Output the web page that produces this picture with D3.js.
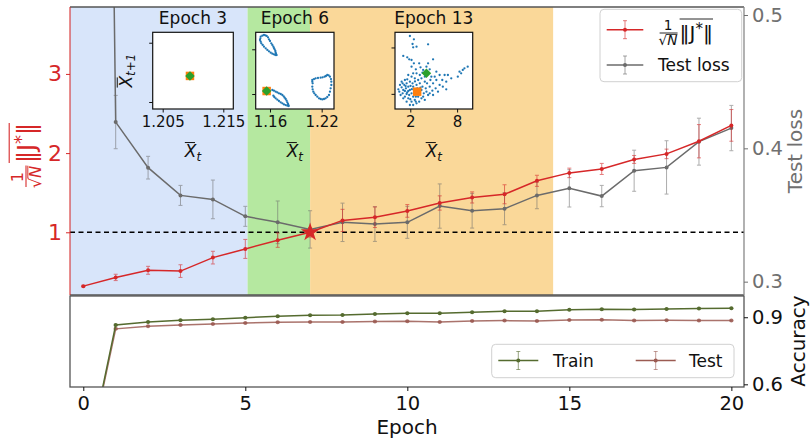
<!DOCTYPE html>
<html><head><meta charset="utf-8">
<script src="https://cdn.jsdelivr.net/npm/d3@7"></script>
<style>body{margin:0;background:#fff} svg{display:block;font-family:"DejaVu Sans",sans-serif}</style>
</head><body><svg id="c" width="811" height="439"></svg>
<script>
// ---------------- data ----------------
const epochs = [0,1,2,3,4,5,6,7,8,9,10,11,12,13,14,15,16,17,18,19,20];
const jNorm    = [0.32,0.43,0.52,0.51,0.68,0.79,0.90,1.00,1.15,1.19,1.27,1.37,1.44,1.48,1.65,1.75,1.80,1.92,1.99,2.15,2.35];
const jNormErr = [0.01,0.04,0.05,0.08,0.08,0.12,0.09,0.06,0.14,0.13,0.08,0.09,0.07,0.12,0.07,0.06,0.07,0.05,0.06,0.21,0.20];
const testLoss    = [2.3,0.4197,0.3855,0.3647,0.3617,0.349,0.3445,0.3392,0.3445,0.3432,0.3445,0.3567,0.3532,0.3547,0.3647,0.370,0.3642,0.3832,0.3857,0.405,0.4152];
const testLossErr = [0.02,0.02,0.0085,0.0075,0.0145,0.0075,0.016,0.014,0.0144,0.013,0.012,0.0166,0.013,0.012,0.01,0.014,0.008,0.0154,0.02,0.0176,0.017];
const trainAcc = [0.17,0.8655,0.879,0.8865,0.891,0.898,0.904,0.909,0.910,0.915,0.918,0.918,0.922,0.927,0.927,0.933,0.936,0.935,0.937,0.939,0.940];
const testAcc  = [0.17,0.848,0.860,0.8655,0.870,0.8745,0.8775,0.879,0.879,0.8805,0.882,0.879,0.8835,0.885,0.8835,0.888,0.889,0.885,0.8865,0.885,0.885];
const accErr   = [0.004,0.003,0.002,0.002,0.002,0.002,0.002,0.002,0.002,0.002,0.002,0.002,0.002,0.002,0.002,0.002,0.002,0.002,0.002,0.002,0.002];
const starEpoch = 7;
const phaseStart = [-0.41, 5.07, 7.0];
const phaseEnd   = [5.07, 7.0, 14.5];
const xTicks = [0,5,10,15,20];
const jTicks = [1,2,3];
const lossTicks = [0.3,0.4,0.5];
const accTicks = [0.6,0.9];
const insetTitles = ["Epoch 3","Epoch 6","Epoch 13"];
const inset3XTicks = [1.205,1.215], inset3YTicks=[1.205,1.215];
const inset6XTicks = [1.16,1.22],  inset6YTicks=[1.16,1.22];
const inset13XTicks = [2,8],       inset13YTicks=[2,8];
const inset3Points = [[1.2095,1.2094]];
const inset6Points = [
 [1.1492,1.2370],[1.1511,1.2383],[1.1530,1.2392],[1.1546,1.2387],[1.1561,1.2379],[1.1577,1.2361],[1.1588,1.2334],[1.1600,1.2311],
 [1.1615,1.2280],[1.1627,1.2258],[1.1639,1.2235],[1.1646,1.2217],[1.1654,1.2200],[1.1662,1.2177],[1.1666,1.2155],[1.1670,1.2137],
 [1.1677,1.2123],[1.1662,1.2123],[1.1646,1.2132],[1.1627,1.2141],[1.1608,1.2155],[1.1588,1.2173],[1.1569,1.2191],[1.1550,1.2213],
 [1.1530,1.2235],[1.1515,1.2258],[1.1499,1.2280],[1.1492,1.2302],[1.1484,1.2325],[1.1488,1.2347],
 [1.2091,1.1788],[1.2111,1.1801],[1.2130,1.1810],[1.2157,1.1815],[1.2188,1.1819],[1.2211,1.1824],[1.2234,1.1833],[1.2250,1.1842],
 [1.2265,1.1855],[1.2281,1.1851],[1.2296,1.1833],[1.2308,1.1801],[1.2312,1.1766],[1.2312,1.1721],[1.2304,1.1676],[1.2296,1.1631],
 [1.2285,1.1587],[1.2265,1.1560],[1.2246,1.1542],[1.2227,1.1533],[1.2207,1.1528],[1.2188,1.1533],[1.2169,1.1542],[1.2149,1.1564],
 [1.2130,1.1587],[1.2114,1.1609],[1.2103,1.1631],[1.2095,1.1663],[1.2091,1.1698],[1.2095,1.1743],[1.2091,1.1766],
 [1.1627,1.1654],[1.1646,1.1645],[1.1666,1.1631],[1.1685,1.1622],[1.1704,1.1609],[1.1724,1.1600],[1.1743,1.1587],[1.1759,1.1569],
 [1.1770,1.1551],[1.1782,1.1533],[1.1793,1.1511],[1.1801,1.1488],[1.1809,1.1466],[1.1813,1.1452],[1.1817,1.1439],[1.1801,1.1443],
 [1.1782,1.1452],[1.1762,1.1461],[1.1743,1.1475],[1.1724,1.1488],[1.1704,1.1506],[1.1685,1.1524],[1.1666,1.1542],[1.1650,1.1560],[1.1639,1.1578]
];
const inset13Points = [
 [1.95,9.48],[2.46,9.05],[2.29,8.45],[2.80,8.10],[2.37,8.02],[4.28,8.41],[1.10,6.90],[1.61,6.72],[1.86,6.47],[2.16,6.38],
 [3.14,5.95],[4.28,5.95],[4.92,6.47],[3.31,5.43],[2.16,5.52],[2.71,5.17],[3.56,4.74],[4.49,5.17],[5.34,4.87],[5.76,4.44],
 [6.40,4.44],[6.82,4.44],[8.09,4.22],[8.52,4.66],[8.73,5.09],[8.94,5.30],[9.36,5.52],[8.31,4.87],[6.10,3.79],[6.61,3.58],
 [5.34,3.79],[4.92,3.36],[6.61,2.59],[5.25,2.72],[5.55,2.28],[4.70,4.22],[5.13,4.22],[3.86,4.22],[4.58,3.79],[4.15,3.36],
 [4.49,2.93],[4.83,2.41],[3.98,2.72],[3.73,2.07],[4.28,1.85],[3.43,1.42],[3.14,0.99],[2.80,0.78],[2.58,1.21],[2.37,1.64],
 [2.16,2.07],[1.95,2.50],[1.74,2.93],[1.53,3.36],[1.31,3.79],[0.89,3.58],[0.68,3.15],[0.47,2.59],[0.59,2.28],[1.02,2.07],
 [1.31,1.64],[1.74,1.42],[2.16,0.99],[2.37,0.56],[1.95,0.56],[1.53,0.99],[1.10,2.50],[1.44,2.72],[2.37,2.93],[2.80,3.15],
 [3.22,3.36],[3.56,2.93],[3.01,3.79],[2.58,4.01],[2.16,4.22],[1.74,4.44],[1.95,3.58],[2.29,3.36],[3.43,4.01],[3.22,4.44],
 [2.80,4.66],[2.37,4.66],[1.61,3.88],[1.23,3.15],[0.89,2.84],[0.76,1.85],[1.10,1.42],[1.53,1.98],[1.86,1.85],[2.58,2.07],
 [3.22,2.07],[3.43,2.50],[3.65,1.64],[3.01,1.64],[2.71,1.64],[3.86,1.21],[4.07,2.28],[4.49,2.07],[4.92,1.85],[2.03,3.02],
 [2.46,2.50],[1.74,2.37],[1.31,2.37],[1.02,3.36],[3.86,3.58],[3.65,5.09],[4.07,5.52],[2.46,5.95],[5.76,3.15],[6.17,2.93],
 [7.25,4.01],[2.60,3.60],[2.90,2.70],[3.10,2.30],[2.20,2.60],[1.60,2.20],[2.00,1.30],[2.70,1.00],[3.30,2.80],[1.40,3.00]
];
const inset3Orange=[1.2095,1.2094], inset3Green=[1.2095,1.2094];
const inset6Orange=[1.1561,1.1640], inset6Green=[1.1561,1.1640];
const inset13Orange=[2.88,2.28], inset13Green=[4.07,4.66];

// ---------------- layout ----------------
const svg = d3.select("#c");
const L=70, R=744, T0=7, T1=295, B0=296, B1=387;
const RED="#d62728", GRAY="#6b6b6b", GREEN="#556b2f", BROWN="#9b5b52";
const x  = d3.scaleLinear().domain([-0.41,20.39]).range([L,R]);
const yJ = d3.scaleLinear().domain([0.208,3.845]).range([T1,T0]);
const yL = d3.scaleLinear().domain([0.290,0.506]).range([T1,T0]);
const yA = d3.scaleLinear().domain([0.588,0.995]).range([B1,B0]);

const defs = svg.append("defs");
defs.append("clipPath").attr("id","clipTop").append("rect").attr("x",L).attr("y",T0).attr("width",R-L).attr("height",T1-T0);
defs.append("clipPath").attr("id","clipBot").append("rect").attr("x",L).attr("y",B0).attr("width",R-L).attr("height",B1-B0);

const topG = svg.append("g").attr("clip-path","url(#clipTop)");
const phaseColors = ["#d8e5fa","#b5e8a0","#fad899"];
topG.selectAll("rect.phase").data(phaseStart).join("rect").attr("class","phase")
  .attr("x",(d)=>x(d)).attr("width",(d,i)=>x(phaseEnd[i])-x(d))
  .attr("y",T0).attr("height",T1-T0).attr("fill",(d,i)=>phaseColors[i]);
topG.append("line").attr("x1",L).attr("x2",R).attr("y1",yJ(1)).attr("y2",yJ(1))
  .attr("stroke","#000").attr("stroke-width",1.4).attr("stroke-dasharray","5,3.5");

function series(g, xs, ys, errs, yScale, color, opts){
  const eb = g.append("g").attr("stroke",color).attr("stroke-width",1).attr("opacity",opts.errOp||0.6);
  xs.forEach((e,i)=>{
    const cx=x(e), y1=yScale(ys[i]-errs[i]), y2=yScale(ys[i]+errs[i]);
    eb.append("line").attr("x1",cx).attr("x2",cx).attr("y1",y1).attr("y2",y2);
    eb.append("line").attr("x1",cx-2).attr("x2",cx+2).attr("y1",y1).attr("y2",y1);
    eb.append("line").attr("x1",cx-2).attr("x2",cx+2).attr("y1",y2).attr("y2",y2);
  });
  g.append("path").attr("d",d3.line().x((d,i)=>x(xs[i])).y(d=>yScale(d))(ys))
    .attr("fill","none").attr("stroke",color).attr("stroke-width",opts.lw||1.5).attr("opacity",opts.op||1);
  g.selectAll(null).data(ys).join("circle").attr("cx",(d,i)=>x(xs[i])).attr("cy",d=>yScale(d))
    .attr("r",2).attr("fill",color).attr("opacity",opts.op||1);
}
series(topG, epochs, testLoss, testLossErr, yL, GRAY, {errOp:0.55});
series(topG, epochs, jNorm, jNormErr, yJ, RED, {errOp:0.6});
topG.append("path").attr("d",d3.symbol(d3.symbolStar,110)())
  .attr("transform",`translate(${x(starEpoch)},${yJ(jNorm[starEpoch])})`).attr("fill",RED);

const botG = svg.append("g").attr("clip-path","url(#clipBot)");
series(botG, epochs, testAcc, accErr, yA, BROWN, {errOp:0.6, op:0.85});
series(botG, epochs, trainAcc, accErr, yA, GREEN, {errOp:0.6});

// ---------------- axes ----------------
const axCol="#555";
svg.append("line").attr("x1",L).attr("x2",R).attr("y1",T0).attr("y2",T0).attr("stroke",axCol).attr("stroke-width",1.3);
svg.append("line").attr("x1",L).attr("x2",R).attr("y1",T1).attr("y2",T1).attr("stroke",axCol).attr("stroke-width",1.3);
svg.append("line").attr("x1",L).attr("x2",L).attr("y1",T0).attr("y2",T1).attr("stroke",RED).attr("stroke-width",1.3).attr("opacity",0.8);
svg.append("line").attr("x1",R).attr("x2",R).attr("y1",T0).attr("y2",T1).attr("stroke","#888").attr("stroke-width",1.3);
svg.append("rect").attr("x",L).attr("y",B0).attr("width",R-L).attr("height",B1-B0).attr("fill","none").attr("stroke",axCol).attr("stroke-width",1.3);

function styleAxis(g, col, fs){
  g.select(".domain").remove();
  g.selectAll(".tick line").attr("stroke",col).attr("stroke-width",1);
  g.selectAll(".tick text").attr("fill",col).attr("font-size",fs).attr("font-family","DejaVu Sans");
}
const axJ = svg.append("g").attr("transform",`translate(${L},0)`)
  .call(d3.axisLeft(yJ).tickValues(jTicks).tickFormat(d3.format("d")).tickSize(4).tickPadding(4));
styleAxis(axJ, RED, 22);
const axL = svg.append("g").attr("transform",`translate(${R},0)`)
  .call(d3.axisRight(yL).tickValues(lossTicks).tickFormat(d3.format(".1f")).tickSize(4).tickPadding(4));
styleAxis(axL, "#707070", 19.5);
const axA = svg.append("g").attr("transform",`translate(${R},0)`)
  .call(d3.axisRight(yA).tickValues(accTicks).tickFormat(d3.format(".1f")).tickSize(4).tickPadding(4));
styleAxis(axA, "#111", 19.5);
const axX = svg.append("g").attr("transform",`translate(0,${B1})`)
  .call(d3.axisBottom(x).tickValues(xTicks).tickFormat(d3.format("d")).tickSize(4).tickPadding(5));
styleAxis(axX, "#111", 19.5);

svg.append("text").attr("x",(L+R)/2+0).attr("y",434).attr("text-anchor","middle").attr("font-size",20).attr("fill","#111").text("Epoch");
svg.append("text").attr("transform","translate(802,151) rotate(-90)").attr("text-anchor","middle").attr("font-size",20).attr("fill","#707070").text("Test loss");
svg.append("text").attr("transform","translate(805,341) rotate(-90)").attr("text-anchor","middle").attr("font-size",20).attr("fill","#111").text("Accuracy");

function jLabel(g, s, color){
  const fs=0.68*s;
  g.append("text").attr("x",0.5*s).attr("y",-0.14*s).attr("text-anchor","middle").attr("font-size",fs).attr("fill",color).text("1");
  g.append("line").attr("x1",0.08*s).attr("x2",0.98*s).attr("y1",0).attr("y2",0).attr("stroke",color).attr("stroke-width",Math.max(0.8,s*0.045));
  const den = g.append("text").attr("x",0.5*s).attr("y",0.62*s).attr("text-anchor","middle").attr("font-size",fs).attr("fill",color);
  const t1 = den.append("tspan").text("√");
  den.append("tspan").attr("font-style","italic").text("N");
  const bb = den.node().getBBox();
  const rw = t1.node().getComputedTextLength();
  g.append("line").attr("x1",bb.x+rw-0.5).attr("x2",bb.x+bb.width).attr("y1",0.62*s-fs*0.8).attr("y2",0.62*s-fs*0.8)
    .attr("stroke",color).attr("stroke-width",Math.max(0.7,s*0.04));
  const main = g.append("text").attr("x",1.08*s).attr("y",0.36*s).attr("font-size",s).attr("fill",color);
  main.append("tspan").text("‖J");
  main.append("tspan").attr("dy",-0.3*s).attr("font-size",0.75*s).text("*");
  main.append("tspan").attr("dy",0.3*s).text("‖");
  const mb = main.node().getBBox();
  g.append("line").attr("x1",mb.x).attr("x2",mb.x+mb.width).attr("y1",-0.7*s).attr("y2",-0.7*s)
    .attr("stroke",color).attr("stroke-width",Math.max(0.8,s*0.045));
}
jLabel(svg.append("g").attr("transform","translate(26,189) rotate(-90)"), 24, RED);

function xbar(g, px, py, sub, fs, rotate){
  const tr = `translate(${px},${py})`+(rotate?" rotate(-90)":"");
  const t = g.append("text").attr("font-size",fs).attr("fill","#111").attr("text-anchor","middle").attr("transform",tr);
  const tx = t.append("tspan").attr("font-style","italic").text("X");
  t.append("tspan").attr("font-style","italic").attr("font-size",fs*0.7).attr("dy",fs*0.22).text(sub);
  const bb = t.node().getBBox();
  const w = tx.node().getComputedTextLength();
  g.append("line").attr("stroke","#111").attr("stroke-width",1)
    .attr("x1",bb.x+1).attr("x2",bb.x+w-0.5).attr("y1",-fs*0.85).attr("y2",-fs*0.85).attr("transform",tr);
}
function inset(cfg){
  const g = svg.append("g");
  const sx = d3.scaleLinear().domain(cfg.xd).range([cfg.x0,cfg.x1]);
  const sy = d3.scaleLinear().domain(cfg.yd).range([cfg.y1,cfg.y0]);
  g.append("rect").attr("x",cfg.x0).attr("y",cfg.y0).attr("width",cfg.x1-cfg.x0).attr("height",cfg.y1-cfg.y0).attr("fill","#fff");
  g.selectAll(null).data(cfg.pts).join("circle").attr("cx",d=>sx(d[0])).attr("cy",d=>sy(d[1])).attr("r",1.15).attr("fill","#1f77b4");
  g.append("path").attr("d",d3.symbol(d3.symbolSquare,72)()).attr("transform",`translate(${sx(cfg.orange[0])},${sy(cfg.orange[1])})`).attr("fill","#ff7f0e");
  g.append("path").attr("d",d3.symbol(d3.symbolDiamond2,58)()).attr("transform",`translate(${sx(cfg.green[0])},${sy(cfg.green[1])})`).attr("fill","#2ca02c");
  g.append("rect").attr("x",cfg.x0).attr("y",cfg.y0).attr("width",cfg.x1-cfg.x0).attr("height",cfg.y1-cfg.y0).attr("fill","none").attr("stroke","#111").attr("stroke-width",1.2);
  const ax = g.append("g").attr("transform",`translate(0,${cfg.y1})`).call(d3.axisBottom(sx).tickValues(cfg.xt).tickFormat(d=>cfg.fmt(d)).tickSize(3.5).tickPadding(4));
  styleAxis(ax,"#111",15);
  const ay = g.append("g").attr("transform",`translate(${cfg.x0},0)`).call(d3.axisLeft(sy).tickValues(cfg.yt).tickFormat("").tickSize(3.5));
  styleAxis(ay,"#111",15);
  g.append("text").attr("x",(cfg.x0+cfg.x1)/2).attr("y",cfg.y0-8).attr("text-anchor","middle").attr("font-size",17).attr("fill","#111").text(cfg.title);
  xbar(g,(cfg.x0+cfg.x1)/2, 157, "t", 17, false);
  if(cfg.ylab) xbar(g, cfg.x0-21, (cfg.y0+cfg.y1)/2, "t+1", 17, true);
}
inset({x0:152.7,x1:233.3,y0:32.3,y1:109,xd:[1.20335,1.21665],yd:[1.20382,1.21676],xt:inset3XTicks,yt:inset3YTicks,
  pts:inset3Points,orange:inset3Orange,green:inset3Green,title:insetTitles[0],fmt:d3.format(".3f"),ylab:true});
inset({x0:255.7,x1:334,y0:32.3,y1:109,xd:[1.1434,1.2343],yd:[1.1399,1.2428],xt:inset6XTicks,yt:inset6YTicks,
  pts:inset6Points,orange:inset6Orange,green:inset6Green,title:insetTitles[1],fmt:d3.format(".2f")});
inset({x0:395,x1:472.7,y0:32.3,y1:109,xd:[0.04,10.0],yd:[0.04,9.96],xt:inset13XTicks,yt:inset13YTicks,
  pts:inset13Points,orange:inset13Orange,green:inset13Green,title:insetTitles[2],fmt:d3.format("d")});

function legendItem(g, x0, x1, y, color, label, fs, tx){
  const cx=(x0+x1)/2;
  g.append("line").attr("x1",x0).attr("x2",x1).attr("y1",y).attr("y2",y).attr("stroke",color).attr("stroke-width",1.5);
  g.append("line").attr("x1",cx).attr("x2",cx).attr("y1",y-9).attr("y2",y+9).attr("stroke",color).attr("opacity",0.6);
  [y-9,y+9].forEach(v=>g.append("line").attr("x1",cx-2).attr("x2",cx+2).attr("y1",v).attr("y2",v).attr("stroke",color).attr("opacity",0.6));
  g.append("circle").attr("cx",cx).attr("cy",y).attr("r",2).attr("fill",color);
  if(label) g.append("text").attr("x",tx).attr("y",y+6).attr("font-size",fs).attr("fill","#111").text(label);
}
const lg1 = svg.append("g");
lg1.append("rect").attr("x",600).attr("y",9.3).attr("width",141.7).attr("height",72.4).attr("rx",4)
  .attr("fill","#fff").attr("fill-opacity",0.85).attr("stroke","#d0d0d0");
legendItem(lg1,606.7,643.3,29.7,RED,null,17,658);
jLabel(lg1.append("g").attr("transform","translate(658,33)"), 20, "#111");
legendItem(lg1,606.7,643.3,65,GRAY,"Test loss",17,658);

const lg2 = svg.append("g");
lg2.append("rect").attr("x",491.7).attr("y",344.3).attr("width",242.3).attr("height",33.4).attr("rx",4)
  .attr("fill","#fff").attr("fill-opacity",0.85).attr("stroke","#d0d0d0");
legendItem(lg2,498.3,538.3,360.5,GREEN,"Train",17,553);
legendItem(lg2,635.7,675.7,360.5,BROWN,"Test",17,689);
</script></body></html>
